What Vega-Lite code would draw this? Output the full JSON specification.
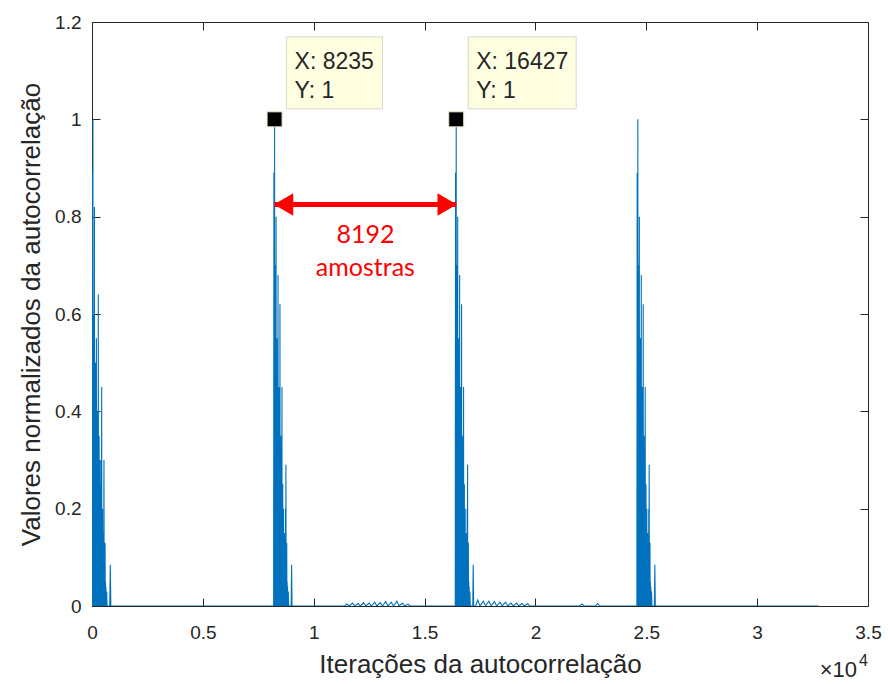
{
  "$schema": "https://vega.github.io/schema/vega-lite/v6.json",
  "width": 776,
  "height": 584,
  "autosize": {"type": "none"},
  "padding": {"left": 92, "top": 22, "right": 20, "bottom": 78},
  "background": "white",
  "config": {
    "view": {"stroke": "#262626", "strokeWidth": 1},
    "font": "Liberation Sans",
    "axis": {
      "domain": false,
      "grid": false,
      "labelFont": "Liberation Sans",
      "labelFontSize": 19,
      "labelColor": "#262626",
      "tickColor": "#262626",
      "tickSize": -8,
      "tickWidth": 1,
      "labelFlush": false,
      "labelOverlap": false,
      "titleFont": "Liberation Sans",
      "titleFontSize": 26,
      "titleFontWeight": "normal",
      "titleColor": "#262626"
    }
  },
  "datasets": {
    "acf": [
      {"lag": 0, "r": 0.89}, {"lag": 8, "r": 0}, {"lag": 16, "r": 0.7}, {"lag": 24, "r": 0}, {"lag": 32, "r": 0.8},
      {"lag": 38, "r": 0}, {"lag": 43, "r": 1.0}, {"lag": 50, "r": 0}, {"lag": 58, "r": 0.6}, {"lag": 66, "r": 0},
      {"lag": 74, "r": 0.55}, {"lag": 82, "r": 0}, {"lag": 90, "r": 0.6}, {"lag": 98, "r": 0}, {"lag": 110, "r": 0.82},
      {"lag": 118, "r": 0}, {"lag": 128, "r": 0.5}, {"lag": 136, "r": 0}, {"lag": 146, "r": 0.45}, {"lag": 154, "r": 0},
      {"lag": 164, "r": 0.5}, {"lag": 172, "r": 0}, {"lag": 182, "r": 0.4}, {"lag": 190, "r": 0}, {"lag": 198, "r": 0.55},
      {"lag": 206, "r": 0}, {"lag": 216, "r": 0.35}, {"lag": 224, "r": 0}, {"lag": 234, "r": 0.4}, {"lag": 242, "r": 0},
      {"lag": 252, "r": 0.3}, {"lag": 260, "r": 0}, {"lag": 270, "r": 0.4}, {"lag": 278, "r": 0}, {"lag": 284, "r": 0.64},
      {"lag": 293, "r": 0}, {"lag": 303, "r": 0.3}, {"lag": 311, "r": 0}, {"lag": 321, "r": 0.35}, {"lag": 329, "r": 0},
      {"lag": 339, "r": 0.25}, {"lag": 347, "r": 0}, {"lag": 357, "r": 0.3}, {"lag": 365, "r": 0}, {"lag": 375, "r": 0.3},
      {"lag": 383, "r": 0}, {"lag": 393, "r": 0.2}, {"lag": 401, "r": 0}, {"lag": 411, "r": 0.25}, {"lag": 419, "r": 0},
      {"lag": 429, "r": 0.2}, {"lag": 437, "r": 0.45}, {"lag": 445, "r": 0}, {"lag": 455, "r": 0.15}, {"lag": 465, "r": 0},
      {"lag": 475, "r": 0.2}, {"lag": 483, "r": 0}, {"lag": 493, "r": 0.12}, {"lag": 501, "r": 0}, {"lag": 511, "r": 0.15},
      {"lag": 519, "r": 0}, {"lag": 529, "r": 0.1}, {"lag": 540, "r": 0.3}, {"lag": 548, "r": 0}, {"lag": 558, "r": 0.12},
      {"lag": 566, "r": 0}, {"lag": 576, "r": 0.1}, {"lag": 584, "r": 0}, {"lag": 590, "r": 0.13}, {"lag": 599, "r": 0},
      {"lag": 609, "r": 0.05}, {"lag": 617, "r": 0}, {"lag": 627, "r": 0.04}, {"lag": 635, "r": 0}, {"lag": 660, "r": 0.03},
      {"lag": 680, "r": 0}, {"lag": 800, "r": 0}, {"lag": 825, "r": 0.085}, {"lag": 850, "r": 0},

      {"lag": 8192, "r": 0}, {"lag": 8200, "r": 0.6}, {"lag": 8205, "r": 0.89}, {"lag": 8212, "r": 0}, {"lag": 8220, "r": 0.75},
      {"lag": 8228, "r": 0}, {"lag": 8235, "r": 1.0}, {"lag": 8242, "r": 0}, {"lag": 8250, "r": 0.6}, {"lag": 8258, "r": 0},
      {"lag": 8266, "r": 0.55}, {"lag": 8274, "r": 0}, {"lag": 8282, "r": 0.7}, {"lag": 8290, "r": 0}, {"lag": 8302, "r": 0.8},
      {"lag": 8310, "r": 0}, {"lag": 8320, "r": 0.5}, {"lag": 8328, "r": 0}, {"lag": 8338, "r": 0.45}, {"lag": 8346, "r": 0},
      {"lag": 8356, "r": 0.55}, {"lag": 8364, "r": 0}, {"lag": 8374, "r": 0.4}, {"lag": 8382, "r": 0}, {"lag": 8390, "r": 0.68},
      {"lag": 8398, "r": 0}, {"lag": 8408, "r": 0.35}, {"lag": 8416, "r": 0}, {"lag": 8426, "r": 0.45}, {"lag": 8434, "r": 0},
      {"lag": 8444, "r": 0.3}, {"lag": 8452, "r": 0}, {"lag": 8462, "r": 0.4}, {"lag": 8470, "r": 0}, {"lag": 8477, "r": 0.62},
      {"lag": 8485, "r": 0}, {"lag": 8495, "r": 0.3}, {"lag": 8503, "r": 0}, {"lag": 8513, "r": 0.35}, {"lag": 8521, "r": 0},
      {"lag": 8531, "r": 0.25}, {"lag": 8539, "r": 0}, {"lag": 8549, "r": 0.3}, {"lag": 8557, "r": 0}, {"lag": 8567, "r": 0.45},
      {"lag": 8575, "r": 0}, {"lag": 8585, "r": 0.2}, {"lag": 8593, "r": 0}, {"lag": 8603, "r": 0.25}, {"lag": 8611, "r": 0},
      {"lag": 8621, "r": 0.15}, {"lag": 8629, "r": 0}, {"lag": 8639, "r": 0.2}, {"lag": 8647, "r": 0}, {"lag": 8657, "r": 0.12},
      {"lag": 8665, "r": 0}, {"lag": 8675, "r": 0.15}, {"lag": 8683, "r": 0}, {"lag": 8693, "r": 0.1}, {"lag": 8701, "r": 0},
      {"lag": 8711, "r": 0.12}, {"lag": 8719, "r": 0}, {"lag": 8729, "r": 0.2}, {"lag": 8737, "r": 0}, {"lag": 8747, "r": 0.29},
      {"lag": 8755, "r": 0}, {"lag": 8765, "r": 0.1}, {"lag": 8773, "r": 0}, {"lag": 8783, "r": 0.13}, {"lag": 8791, "r": 0},
      {"lag": 8801, "r": 0.05}, {"lag": 8809, "r": 0}, {"lag": 8819, "r": 0.04}, {"lag": 8827, "r": 0}, {"lag": 8852, "r": 0.03},
      {"lag": 8872, "r": 0}, {"lag": 8982, "r": 0}, {"lag": 9002, "r": 0.085}, {"lag": 9022, "r": 0},

      {"lag": 11400, "r": 0}, {"lag": 11500, "r": 0.004}, {"lag": 11600, "r": 0}, {"lag": 11750, "r": 0.006},
      {"lag": 11850, "r": 0}, {"lag": 12000, "r": 0.005}, {"lag": 12100, "r": 0}, {"lag": 12250, "r": 0.007},
      {"lag": 12350, "r": 0}, {"lag": 12500, "r": 0.006}, {"lag": 12600, "r": 0}, {"lag": 12750, "r": 0.008},
      {"lag": 12850, "r": 0}, {"lag": 13000, "r": 0.007}, {"lag": 13100, "r": 0}, {"lag": 13250, "r": 0.009},
      {"lag": 13350, "r": 0}, {"lag": 13500, "r": 0.008}, {"lag": 13600, "r": 0}, {"lag": 13750, "r": 0.01},
      {"lag": 13850, "r": 0}, {"lag": 14000, "r": 0.006}, {"lag": 14100, "r": 0}, {"lag": 14250, "r": 0.004},
      {"lag": 14350, "r": 0},

      {"lag": 16384, "r": 0}, {"lag": 16392, "r": 0.6}, {"lag": 16397, "r": 0.89}, {"lag": 16404, "r": 0}, {"lag": 16412, "r": 0.75},
      {"lag": 16420, "r": 0}, {"lag": 16427, "r": 1.0}, {"lag": 16434, "r": 0}, {"lag": 16442, "r": 0.6}, {"lag": 16450, "r": 0},
      {"lag": 16458, "r": 0.55}, {"lag": 16466, "r": 0}, {"lag": 16474, "r": 0.7}, {"lag": 16482, "r": 0}, {"lag": 16494, "r": 0.8},
      {"lag": 16502, "r": 0}, {"lag": 16512, "r": 0.5}, {"lag": 16520, "r": 0}, {"lag": 16530, "r": 0.45}, {"lag": 16538, "r": 0},
      {"lag": 16548, "r": 0.55}, {"lag": 16556, "r": 0}, {"lag": 16566, "r": 0.4}, {"lag": 16574, "r": 0}, {"lag": 16582, "r": 0.68},
      {"lag": 16590, "r": 0}, {"lag": 16600, "r": 0.35}, {"lag": 16608, "r": 0}, {"lag": 16618, "r": 0.45}, {"lag": 16626, "r": 0},
      {"lag": 16636, "r": 0.3}, {"lag": 16644, "r": 0}, {"lag": 16654, "r": 0.4}, {"lag": 16662, "r": 0}, {"lag": 16669, "r": 0.62},
      {"lag": 16677, "r": 0}, {"lag": 16687, "r": 0.3}, {"lag": 16695, "r": 0}, {"lag": 16705, "r": 0.35}, {"lag": 16713, "r": 0},
      {"lag": 16723, "r": 0.25}, {"lag": 16731, "r": 0}, {"lag": 16741, "r": 0.3}, {"lag": 16749, "r": 0}, {"lag": 16759, "r": 0.45},
      {"lag": 16767, "r": 0}, {"lag": 16777, "r": 0.2}, {"lag": 16785, "r": 0}, {"lag": 16795, "r": 0.25}, {"lag": 16803, "r": 0},
      {"lag": 16813, "r": 0.15}, {"lag": 16821, "r": 0}, {"lag": 16831, "r": 0.2}, {"lag": 16839, "r": 0}, {"lag": 16849, "r": 0.12},
      {"lag": 16857, "r": 0}, {"lag": 16867, "r": 0.15}, {"lag": 16875, "r": 0}, {"lag": 16885, "r": 0.1}, {"lag": 16893, "r": 0},
      {"lag": 16903, "r": 0.12}, {"lag": 16911, "r": 0}, {"lag": 16921, "r": 0.2}, {"lag": 16929, "r": 0}, {"lag": 16939, "r": 0.29},
      {"lag": 16947, "r": 0}, {"lag": 16957, "r": 0.1}, {"lag": 16965, "r": 0}, {"lag": 16975, "r": 0.13}, {"lag": 16983, "r": 0},
      {"lag": 16993, "r": 0.05}, {"lag": 17001, "r": 0}, {"lag": 17011, "r": 0.04}, {"lag": 17019, "r": 0}, {"lag": 17044, "r": 0.03},
      {"lag": 17064, "r": 0}, {"lag": 17174, "r": 0}, {"lag": 17194, "r": 0.085}, {"lag": 17214, "r": 0},

      {"lag": 17300, "r": 0}, {"lag": 17400, "r": 0.012}, {"lag": 17500, "r": 0}, {"lag": 17650, "r": 0.01},
      {"lag": 17750, "r": 0}, {"lag": 17900, "r": 0.01}, {"lag": 18000, "r": 0}, {"lag": 18150, "r": 0.009},
      {"lag": 18250, "r": 0}, {"lag": 18400, "r": 0.008}, {"lag": 18500, "r": 0}, {"lag": 18650, "r": 0.008},
      {"lag": 18750, "r": 0}, {"lag": 18900, "r": 0.006}, {"lag": 19000, "r": 0}, {"lag": 19150, "r": 0.006},
      {"lag": 19250, "r": 0}, {"lag": 19400, "r": 0.005}, {"lag": 19500, "r": 0}, {"lag": 19650, "r": 0.005},
      {"lag": 19750, "r": 0}, {"lag": 22000, "r": 0}, {"lag": 22100, "r": 0.004}, {"lag": 22200, "r": 0},
      {"lag": 22700, "r": 0}, {"lag": 22800, "r": 0.005}, {"lag": 22900, "r": 0},

      {"lag": 24576, "r": 0}, {"lag": 24584, "r": 0.6}, {"lag": 24589, "r": 0.89}, {"lag": 24596, "r": 0}, {"lag": 24604, "r": 0.75},
      {"lag": 24612, "r": 0}, {"lag": 24619, "r": 1.0}, {"lag": 24626, "r": 0}, {"lag": 24634, "r": 0.6}, {"lag": 24642, "r": 0},
      {"lag": 24650, "r": 0.55}, {"lag": 24658, "r": 0}, {"lag": 24666, "r": 0.7}, {"lag": 24674, "r": 0}, {"lag": 24686, "r": 0.8},
      {"lag": 24694, "r": 0}, {"lag": 24704, "r": 0.5}, {"lag": 24712, "r": 0}, {"lag": 24722, "r": 0.45}, {"lag": 24730, "r": 0},
      {"lag": 24740, "r": 0.55}, {"lag": 24748, "r": 0}, {"lag": 24758, "r": 0.4}, {"lag": 24766, "r": 0}, {"lag": 24774, "r": 0.68},
      {"lag": 24782, "r": 0}, {"lag": 24792, "r": 0.35}, {"lag": 24800, "r": 0}, {"lag": 24810, "r": 0.45}, {"lag": 24818, "r": 0},
      {"lag": 24828, "r": 0.3}, {"lag": 24836, "r": 0}, {"lag": 24846, "r": 0.4}, {"lag": 24854, "r": 0}, {"lag": 24861, "r": 0.62},
      {"lag": 24869, "r": 0}, {"lag": 24879, "r": 0.3}, {"lag": 24887, "r": 0}, {"lag": 24897, "r": 0.35}, {"lag": 24905, "r": 0},
      {"lag": 24915, "r": 0.25}, {"lag": 24923, "r": 0}, {"lag": 24933, "r": 0.3}, {"lag": 24941, "r": 0}, {"lag": 24951, "r": 0.45},
      {"lag": 24959, "r": 0}, {"lag": 24969, "r": 0.2}, {"lag": 24977, "r": 0}, {"lag": 24987, "r": 0.25}, {"lag": 24995, "r": 0},
      {"lag": 25005, "r": 0.15}, {"lag": 25013, "r": 0}, {"lag": 25023, "r": 0.2}, {"lag": 25031, "r": 0}, {"lag": 25041, "r": 0.12},
      {"lag": 25049, "r": 0}, {"lag": 25059, "r": 0.15}, {"lag": 25067, "r": 0}, {"lag": 25077, "r": 0.1}, {"lag": 25085, "r": 0},
      {"lag": 25095, "r": 0.12}, {"lag": 25103, "r": 0}, {"lag": 25113, "r": 0.2}, {"lag": 25121, "r": 0}, {"lag": 25131, "r": 0.29},
      {"lag": 25139, "r": 0}, {"lag": 25149, "r": 0.1}, {"lag": 25157, "r": 0}, {"lag": 25167, "r": 0.13}, {"lag": 25175, "r": 0},
      {"lag": 25185, "r": 0.05}, {"lag": 25193, "r": 0}, {"lag": 25203, "r": 0.04}, {"lag": 25211, "r": 0}, {"lag": 25236, "r": 0.03},
      {"lag": 25256, "r": 0}, {"lag": 25366, "r": 0}, {"lag": 25386, "r": 0.085}, {"lag": 25406, "r": 0},

      {"lag": 32767, "r": 0}
    ],
    "span": [{"from": 8235, "to": 16427, "level": 0.825}],
    "tip1": [{"lag": 8235, "r": 1}],
    "tip2": [{"lag": 16427, "r": 1}],
    "scaleNote": [{"lag": 35000, "r": 0, "mult": "×10", "exp": "4"}]
  },
  "resolve": {"axis": {"x": "independent", "y": "independent"}},
  "layer": [
    {
      "data": {"name": "acf"},
      "mark": {"type": "line", "color": "#0072BD", "strokeWidth": 1.1, "clip": true},
      "encoding": {
        "x": {
          "field": "lag", "type": "quantitative",
          "scale": {"domain": [0, 35000], "nice": false, "zero": false},
          "axis": {
            "orient": "bottom",
            "values": [0, 5000, 10000, 15000, 20000, 25000, 30000, 35000],
            "labelExpr": "format(datum.value / 10000, '~g')",
            "labelPadding": 25,
            "title": "Iterações da autocorrelação",
            "titlePadding": 9
          }
        },
        "y": {
          "field": "r", "type": "quantitative",
          "scale": {"domain": [0, 1.2], "nice": false, "zero": false},
          "axis": {
            "orient": "left",
            "values": [0, 0.2, 0.4, 0.6, 0.8, 1, 1.2],
            "format": "~g",
            "labelPadding": 19,
            "title": "Valores normalizados da autocorrelação",
            "titlePadding": 10
          }
        }
      }
    },
    {
      "data": {"name": "span"},
      "mark": {"type": "rule", "color": "#FF0000", "strokeWidth": 5},
      "encoding": {
        "x": {
          "field": "from", "type": "quantitative",
          "axis": {"orient": "top", "labels": false, "title": null,
                   "values": [0, 5000, 10000, 15000, 20000, 25000, 30000, 35000]}
        },
        "x2": {"field": "to"},
        "y": {
          "field": "level", "type": "quantitative",
          "axis": {"orient": "right", "labels": false, "title": null,
                   "values": [0, 0.2, 0.4, 0.6, 0.8, 1, 1.2]}
        }
      }
    },
    {
      "data": {"name": "span"},
      "mark": {"type": "point", "shape": "triangle-left", "filled": true, "color": "#FF0000", "opacity": 1, "size": 500, "xOffset": 9},
      "encoding": {
        "x": {"field": "from", "type": "quantitative", "axis": null},
        "y": {"field": "level", "type": "quantitative", "axis": null}
      }
    },
    {
      "data": {"name": "span"},
      "mark": {"type": "point", "shape": "triangle-right", "filled": true, "color": "#FF0000", "opacity": 1, "size": 500, "xOffset": -9},
      "encoding": {
        "x": {"field": "to", "type": "quantitative", "axis": null},
        "y": {"field": "level", "type": "quantitative", "axis": null}
      }
    },
    {
      "data": {"name": "span"},
      "transform": [
        {"calculate": "(datum.from + datum.to) / 2", "as": "mid"},
        {"calculate": "format(datum.to - datum.from, 'd') + '\\namostras'", "as": "caption"}
      ],
      "mark": {"type": "text", "color": "#FF0000", "font": "Lato", "fontSize": 25, "align": "center", "baseline": "alphabetic", "lineBreak": "\n", "lineHeight": 33, "dy": 38},
      "encoding": {
        "x": {"field": "mid", "type": "quantitative", "axis": null},
        "y": {"field": "level", "type": "quantitative", "axis": null},
        "text": {"field": "caption"}
      }
    },
    {
      "data": {"name": "tip1"},
      "transform": [
        {"calculate": "'X: ' + datum.lag", "as": "lx"},
        {"calculate": "'Y: ' + datum.r", "as": "ly"}
      ],
      "layer": [
        {
          "mark": {"type": "rect", "width": 96, "height": 72, "xOffset": 60, "yOffset": -46.5, "fill": "#FFFFE1", "stroke": "#D6D6CC", "strokeWidth": 1},
          "encoding": {
            "x": {"field": "lag", "type": "quantitative", "axis": null},
            "y": {"field": "r", "type": "quantitative", "axis": null}
          }
        },
        {
          "mark": {"type": "text", "font": "Liberation Sans", "fontSize": 23, "color": "#262626", "align": "left", "baseline": "alphabetic", "dx": 20, "dy": -50.5},
          "encoding": {
            "x": {"field": "lag", "type": "quantitative", "axis": null},
            "y": {"field": "r", "type": "quantitative", "axis": null},
            "text": {"field": "lx"}
          }
        },
        {
          "mark": {"type": "text", "font": "Liberation Sans", "fontSize": 23, "color": "#262626", "align": "left", "baseline": "alphabetic", "dx": 20, "dy": -21.5},
          "encoding": {
            "x": {"field": "lag", "type": "quantitative", "axis": null},
            "y": {"field": "r", "type": "quantitative", "axis": null},
            "text": {"field": "ly"}
          }
        },
        {
          "mark": {"type": "point", "shape": "square", "filled": true, "color": "#000000", "opacity": 1, "size": 225, "stroke": "#E8E8C8", "strokeWidth": 1},
          "encoding": {
            "x": {"field": "lag", "type": "quantitative", "axis": null},
            "y": {"field": "r", "type": "quantitative", "axis": null}
          }
        }
      ]
    },
    {
      "data": {"name": "tip2"},
      "transform": [
        {"calculate": "'X: ' + datum.lag", "as": "lx"},
        {"calculate": "'Y: ' + datum.r", "as": "ly"}
      ],
      "layer": [
        {
          "mark": {"type": "rect", "width": 108, "height": 72, "xOffset": 66, "yOffset": -46.5, "fill": "#FFFFE1", "stroke": "#D6D6CC", "strokeWidth": 1},
          "encoding": {
            "x": {"field": "lag", "type": "quantitative", "axis": null},
            "y": {"field": "r", "type": "quantitative", "axis": null}
          }
        },
        {
          "mark": {"type": "text", "font": "Liberation Sans", "fontSize": 23, "color": "#262626", "align": "left", "baseline": "alphabetic", "dx": 20, "dy": -50.5},
          "encoding": {
            "x": {"field": "lag", "type": "quantitative", "axis": null},
            "y": {"field": "r", "type": "quantitative", "axis": null},
            "text": {"field": "lx"}
          }
        },
        {
          "mark": {"type": "text", "font": "Liberation Sans", "fontSize": 23, "color": "#262626", "align": "left", "baseline": "alphabetic", "dx": 20, "dy": -21.5},
          "encoding": {
            "x": {"field": "lag", "type": "quantitative", "axis": null},
            "y": {"field": "r", "type": "quantitative", "axis": null},
            "text": {"field": "ly"}
          }
        },
        {
          "mark": {"type": "point", "shape": "square", "filled": true, "color": "#000000", "opacity": 1, "size": 225, "stroke": "#E8E8C8", "strokeWidth": 1},
          "encoding": {
            "x": {"field": "lag", "type": "quantitative", "axis": null},
            "y": {"field": "r", "type": "quantitative", "axis": null}
          }
        }
      ]
    },
    {
      "data": {"name": "scaleNote"},
      "layer": [
        {
          "mark": {"type": "text", "font": "Liberation Sans", "fontSize": 22, "color": "#262626", "align": "right", "baseline": "alphabetic", "dx": -11, "dy": 71, "clip": false},
          "encoding": {
            "x": {"field": "lag", "type": "quantitative", "axis": null},
            "y": {"field": "r", "type": "quantitative", "axis": null},
            "text": {"field": "mult"}
          }
        },
        {
          "mark": {"type": "text", "font": "Liberation Sans", "fontSize": 16, "color": "#262626", "align": "right", "baseline": "alphabetic", "dx": 0, "dy": 60, "clip": false},
          "encoding": {
            "x": {"field": "lag", "type": "quantitative", "axis": null},
            "y": {"field": "r", "type": "quantitative", "axis": null},
            "text": {"field": "exp"}
          }
        }
      ]
    }
  ]
}
